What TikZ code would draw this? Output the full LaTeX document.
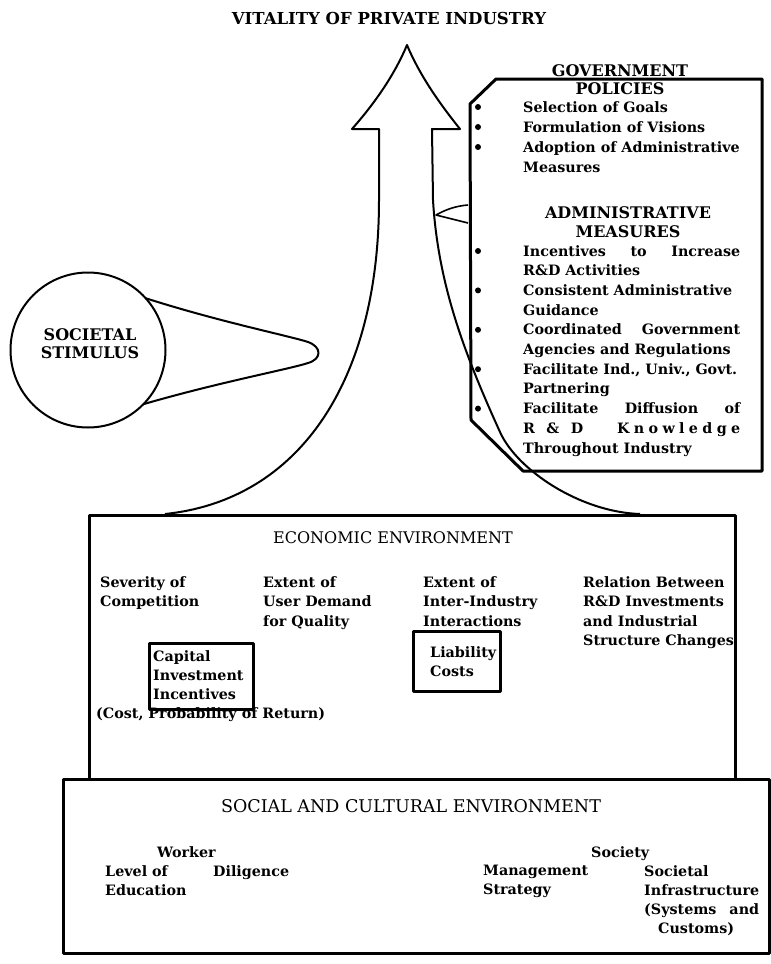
\documentclass[tikz,border=0pt]{standalone}
\usepackage{fontspec}
\usepackage{calc}
\setmainfont{DejaVu Serif}
\begin{document}
\begin{tikzpicture}[x=1pt,y=-1pt,line join=round,
  outline/.style={line width=2pt},
  frame/.style={line width=3pt},
  body/.style={font=\fontsize{14.3}{19.6}\selectfont\bfseries, inner sep=0pt, anchor=north west, align=left},
  bline/.style={font=\fontsize{14.3}{19.6}\selectfont\bfseries, inner sep=0pt, anchor=base west},
  head/.style={font=\fontsize{16}{18}\selectfont, inner sep=0pt, anchor=base},
  bhead/.style={font=\fontsize{16}{18}\selectfont\bfseries, inner sep=0pt, anchor=base},
  bul/.style={circle, fill, inner sep=0pt, minimum size=6pt}]
\useasboundingbox (0,0) rectangle (771,964);

% title
\node[bhead, font=\fontsize{16.5}{18}\selectfont\bfseries] (ttl) at (389,24) {VITALITY OF PRIVATE INDUSTRY};

% the big arrow rising from the economic environment
\coordinate (lb) at (165,514);
\coordinate (rb) at (640,514);
\draw[outline] (lb) .. controls (300,500) and (379,380) .. (379,200) -- (379,129) -- (352,129)
  .. controls (374,104) and (394,76) .. (407,45)
  .. controls (420,76) and (440,104) .. (460,129) -- (432,129) -- (433,200)
  .. controls (438,285) and (465,355) .. (500,432)
  .. controls (517,470) and (580,512) .. (rb);

% government policies panel
\draw[frame] (496,79) -- (762,79) -- (762,471) -- (523,471) -- (471,420) -- (470,104) -- cycle;
\coordinate (wedge) at (436,215);
\draw[line width=1.6pt] (468,205) .. controls (455,206) and (445,210) .. (wedge) -- (468,223);

\node[bhead] (gov1) at (620,76) {GOVERNMENT};
\node[bhead] (gov2) at (620,94) {POLICIES};
\node[body, font=\fontsize{14.3}{20}\selectfont\bfseries] (glist) at (523,101)
  {Selection of Goals\\Formulation of Visions\\Adoption of Administrative\\Measures};
\foreach \yy [count=\i] in {107,127,147}
  \node[bul] (ga\i) at (478,\yy) {};

\node[bhead] (adm1) at (628,218) {ADMINISTRATIVE};
\node[bhead] (adm2) at (628,237) {MEASURES};
\node[body, font=\fontsize{14.3}{19.7}\selectfont\bfseries] (alist) at (523,245)
  {\makebox[217pt][s]{Incentives to Increase}\\
   R\&D Activities\\
   Consistent Administrative\\
   Guidance\\
   \makebox[217pt][s]{Coordinated Government}\\
   Agencies and Regulations\\
   Facilitate Ind., Univ., Govt.\\
   Partnering\\
   \makebox[217pt][s]{Facilitate Diffusion of}\\
   \makebox[217pt][s]{\makebox[60pt][s]{R\hfill\&\hfill D}\hfill\makebox[123pt][s]{K\hfill n\hfill o\hfill w\hfill l\hfill e\hfill d\hfill g\hfill e}}\\
   Throughout Industry};
\foreach \yy [count=\i] in {251,290.4,329.8,369.2,408.6}
  \node[bul] (gb\i) at (478,\yy) {};

% societal stimulus bubble
\node[circle, draw, outline, minimum size=155pt, inner sep=0pt] (stim) at (88,350) {};
\node[bhead, anchor=center, align=center] (stimtxt) at (90,344) {SOCIETAL\\STIMULUS};
\coordinate (tailtop) at (145,298);
\coordinate (tailbot) at (144,404);
\draw[outline] (tailtop) .. controls (220,322) and (290,336) .. (308,342)
  .. controls (322,347) and (322,359) .. (308,363)
  .. controls (290,369) and (220,382) .. (tailbot);

% economic environment
\draw[frame] (89,779) -- (89,515) -- (735,515) -- (735,779);
\node[head] (eco) at (393,543) {ECONOMIC ENVIRONMENT};
\node[body] (e1) at (100,576) {Severity of\\Competition};
\node[body] (e2) at (263,576) {Extent of\\User Demand\\for Quality};
\node[body] (e3) at (423,576) {Extent of\\Inter-Industry\\Interactions};
\node[body] (e4) at (583,576) {Relation Between\\R\&D Investments\\and Industrial\\Structure Changes};

\node[draw, frame, minimum width=104pt, minimum height=66pt, inner sep=0pt, anchor=north west] (capbox) at (148,642) {};
\node[body, font=\fontsize{14.3}{19}\selectfont\bfseries] (captxt) at (153,650) {Capital\\Investment\\Incentives};
\node[bline] (cost) at (96,718) {(Cost, Probability of Return)};
\node[draw, frame, minimum width=87pt, minimum height=60pt, inner sep=0pt, anchor=north west] (libox) at (412,630) {};
\node[body, font=\fontsize{14.3}{19}\selectfont\bfseries] (litxt) at (430,646) {Liability\\Costs};

% social and cultural environment
\draw[frame] (63,779) rectangle (769,953);
\node[head, font=\fontsize{17.5}{20}\selectfont] (soc) at (411,812) {SOCIAL AND CULTURAL ENVIRONMENT};
\node[bline] (wk) at (157,857) {Worker};
\node[body, font=\fontsize{14.3}{19.3}\selectfont\bfseries] (s1) at (105,865) {Level of\\Education};
\node[bline] (s2) at (213,876) {Diligence};
\node[bline] (sy) at (591,857) {Society};
\node[body, font=\fontsize{14.3}{19.3}\selectfont\bfseries] (s3) at (483,865) {Management\\Strategy};
\node[body, font=\fontsize{14.3}{19.3}\selectfont\bfseries] (s4) at (644,865)
  {Societal\\Infrastructure\\\makebox[\widthof{Infrastructure}][s]{(Systems and}\\\hspace*{14pt}Customs)};
\end{tikzpicture}
\end{document}
